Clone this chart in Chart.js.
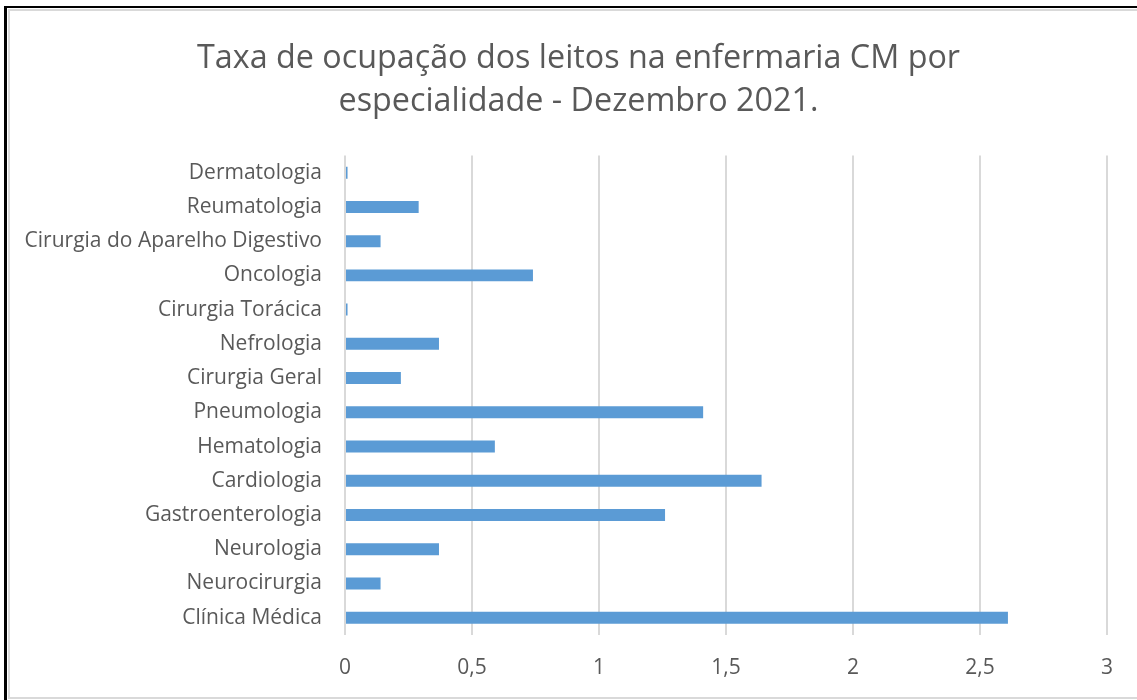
<!DOCTYPE html>
<html>
<head>
<meta charset="utf-8">
<script src="https://cdn.jsdelivr.net/npm/chart.js@4"></script>
<style>
    html, body { margin: 0; padding: 0; background: #fff; overflow: hidden; }
    #wrap { position: relative; width: 1137px; height: 700px; }
    #outer { position: absolute; left: 4px; top: 6px; width: 1200px; height: 800px;
             border-left: 3px solid #000; border-top: 2px solid #000; pointer-events: none; }
    #inner { position: absolute; left: 8px; top: 9px; width: 1200px; height: 686px;
             border: 2px solid #d9d9d9; border-right: none; pointer-events: none; }
</style>
</head>
<body>
<div id="wrap">
    <canvas id="ocupChart" width="1137" height="700"></canvas>
    <div id="outer"></div>
    <div id="inner"></div>
</div>
<script>
// Especialidades (de cima para baixo)
var especialidades = [
    "Dermatologia",
    "Reumatologia",
    "Cirurgia do Aparelho Digestivo",
    "Oncologia",
    "Cirurgia Torácica",
    "Nefrologia",
    "Cirurgia Geral",
    "Pneumologia",
    "Hematologia",
    "Cardiologia",
    "Gastroenterologia",
    "Neurologia",
    "Neurocirurgia",
    "Clínica Médica"
];

// Taxa de ocupação
var taxas = [0.01, 0.29, 0.14, 0.74, 0.01, 0.37, 0.22, 1.41, 0.59, 1.64, 1.26, 0.37, 0.14, 2.61];

// Eixo x
var eixoMin = 0;
var eixoMax = 3;
var eixoPasso = 0.5;

var tituloLinhas = ["Taxa de ocupação dos leitos na enfermaria CM por", "especialidade - Dezembro 2021."];

(function(){

    Chart.defaults.font.family = "'Open Sans', 'Noto Sans', sans-serif";
    Chart.defaults.color = "#595959";

    // titulo um pouco deslocado para a direita, como no original
    var desviaTitulo = {
        id: 'desviaTitulo',
        afterLayout: function(chart) {
            if (chart.titleBlock) {
                chart.titleBlock.left += 15;
                chart.titleBlock.right += 15;
            }
        }
    };

    var ctx = document.getElementById("ocupChart").getContext("2d");
    var ocupChart = new Chart(ctx, {
        type: 'bar',
        data: {
            labels: especialidades,
            datasets: [
                {
                    data: taxas,
                    backgroundColor: "#5b9bd5",
                    borderWidth: 0,
                    barPercentage: 0.35,
                    categoryPercentage: 1
                }
            ]
        },
        options: {
            responsive: false,
            animation: false,
            indexAxis: 'y',
            layout: {
                padding: { left: 20, right: 30, top: 0, bottom: -2 }
            },
            plugins: {
                legend: { display: false },
                tooltip: { enabled: false },
                title: {
                    display: true,
                    text: tituloLinhas,
                    color: "#595959",
                    font: { size: 32.3, weight: 'normal', lineHeight: 1.34 },
                    padding: { top: 37, bottom: 32 }
                }
            },
            scales: {
                x: {
                    min: eixoMin,
                    max: eixoMax,
                    border: { display: false },
                    grid: { color: "#d9d9d9", lineWidth: 2, drawTicks: false },
                    ticks: {
                        stepSize: eixoPasso,
                        padding: 21,
                        font: { size: 21 },
                        color: "#595959",
                        callback: function(v) { return String(v).replace('.', ','); }
                    }
                },
                y: {
                    border: { display: false },
                    grid: { display: false, drawTicks: false },
                    ticks: {
                        padding: 23,
                        font: { size: 21 },
                        color: "#595959",
                        autoSkip: false
                    },
                    afterFit: function(scale) { scale.width = 325; }
                }
            }
        },
        plugins: [desviaTitulo]
    });

})();
</script>
</body>
</html>
